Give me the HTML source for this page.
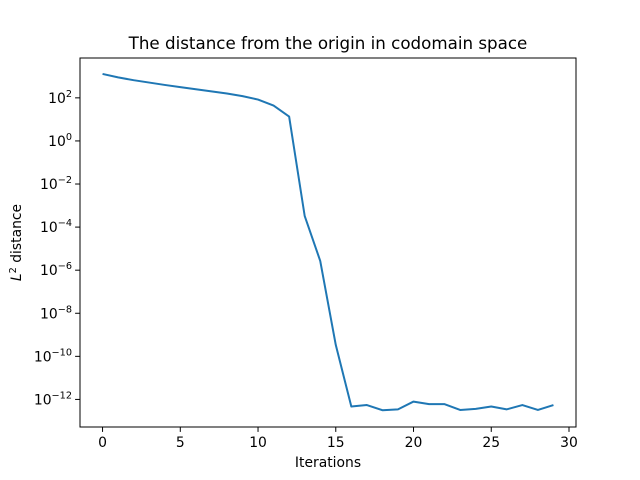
<!DOCTYPE html>
<html><head><meta charset="utf-8"><style>body{margin:0;background:#fff}svg{display:block;font-family:"DejaVu Sans","Liberation Sans",sans-serif}</style></head>
<body>
<svg id="chart" width="640" height="480"></svg>
<script>
const iterations=[0,1,2,3,4,5,6,7,8,9,10,11,12,13,14,15,16,17,18,19,20,21,22,23,24,25,26,27,28,29];
const log10Distance=[3.11,2.95,2.82,2.71,2.6,2.5,2.4,2.3,2.2,2.08,1.92,1.64,1.13,-3.48,-5.57,-9.47,-12.33,-12.26,-12.5,-12.46,-12.1,-12.22,-12.22,-12.49,-12.44,-12.33,-12.46,-12.26,-12.49,-12.26];
const xTicks=[0,5,10,15,20,25,30];
const yTickExps=[2,0,-2,-4,-6,-8,-10,-12];
const NS='http://www.w3.org/2000/svg';
const svg=document.getElementById('chart');
const L=80,R=576,T=58,B=427;
const xMin=-1.45,xMax=30.45,yMin=-13.28,yMax=3.85;
const xs=v=>L+(v-xMin)/(xMax-xMin)*(R-L);
const ys=v=>B-(v-yMin)/(yMax-yMin)*(B-T);
function mk(tag,attrs,text){const e=document.createElementNS(NS,tag);for(const k in attrs)e.setAttribute(k,attrs[k]);if(text!==undefined)e.textContent=text;svg.appendChild(e);return e;}
xTicks.forEach(t=>{const x=xs(t);
 const l=mk('line',{x1:x,x2:x,y1:B,y2:B+4.9,stroke:'#000','stroke-width':1});
 
 
 const tx=mk('text',{x:x,y:B+20,'font-size':13.9,'text-anchor':'middle'},t);
 
 
});
yTickExps.forEach(e=>{const y=ys(e);
 const l=mk('line',{x1:L-4.9,x2:L,y1:y,y2:y,stroke:'#000','stroke-width':1});
 
 
 const tx=mk('text',{x:L-8,y:y+5,'font-size':13.9,'text-anchor':'end'});
 
 
 const a=document.createElementNS(NS,'tspan');a.textContent='10';tx.appendChild(a);
 const b=document.createElementNS(NS,'tspan');b.setAttribute('dy',-6);b.setAttribute('font-size',9.7);b.textContent=(e<0?'\u2212':'')+Math.abs(e);tx.appendChild(b);
});
const pts=iterations.map((v,i)=>xs(v).toFixed(2)+','+ys(log10Distance[i]).toFixed(2)).join(' ');
const pl=mk('polyline',{points:pts,fill:'none',stroke:'#1f77b4','stroke-width':2,'stroke-linejoin':'round'});


const fr=mk('rect',{x:L,y:T,width:R-L,height:B-T,fill:'none',stroke:'#000','stroke-width':1});


const ti=mk('text',{x:(L+R)/2,y:T-9,'font-size':16.7,'text-anchor':'middle'},'The distance from the origin in codomain space');


const xl=mk('text',{x:(L+R)/2,y:467,'font-size':13.9,'text-anchor':'middle'},'Iterations');


const yl=mk('text',{x:0,y:0,'font-size':13.9,'text-anchor':'middle',transform:'translate(21,'+((T+B)/2)+') rotate(-90)'});


const s1=document.createElementNS(NS,'tspan');s1.setAttribute('font-style','italic');s1.textContent='L';yl.appendChild(s1);
const s2=document.createElementNS(NS,'tspan');s2.setAttribute('dy',-5);s2.setAttribute('font-size',9.7);s2.textContent='2';yl.appendChild(s2);
const s3=document.createElementNS(NS,'tspan');s3.setAttribute('dy',5);s3.textContent=' distance';yl.appendChild(s3);
</script>
</body></html>
